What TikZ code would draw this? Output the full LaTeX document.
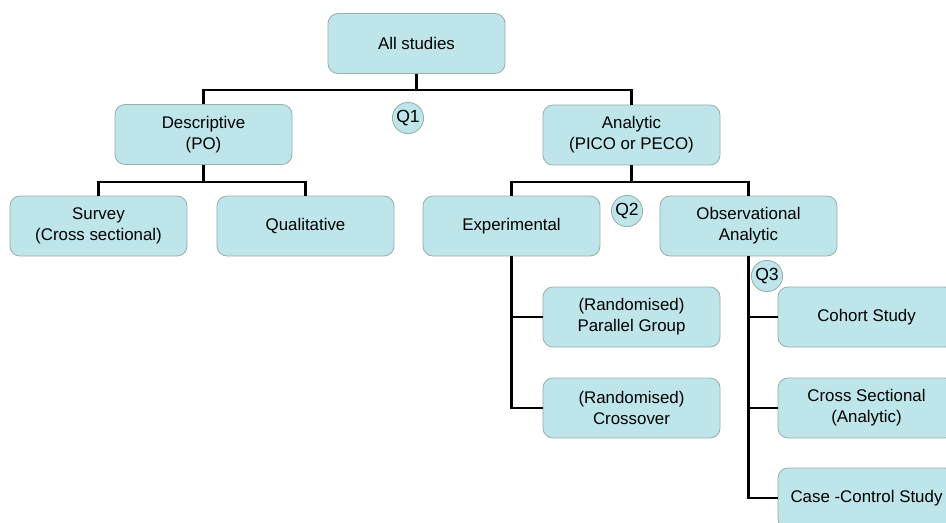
\documentclass[tikz,border=0pt]{standalone}
\usepackage{fontspec}
\setmainfont{Liberation Sans}
\usepackage{tikz}
\usetikzlibrary{positioning, calc}
\definecolor{boxfill}{HTML}{BEE6EA}
\definecolor{boxline}{HTML}{9AAEB0}
\tikzset{
  studybox/.style={
    rectangle, draw=boxline, fill=boxfill, rounded corners=0.25cm,
    minimum width=4.425cm,
    minimum height=1.5cm,
    font=\fontsize{12}{15}\selectfont,
    align=center,
    inner sep=0.1cm,
    line width=0.6pt
  },
  question/.style={
    circle, draw=boxline, fill=boxfill, inner sep=0pt,
    minimum size=0.78cm,
    font=\fontsize{12.5}{14}\selectfont,
    line width=0.6pt
  },
  % Stile dei collegamenti ad albero
  branch/.style={line width=1.9pt, black},
  every node/.style={anchor=center}
}

\begin{document}
\begin{tikzpicture}[x=0.025cm, y=-0.025cm]
\useasboundingbox (0,0) rectangle (946,522);

% Radice
\node[studybox] (allstudies) at (416.5,43.5) {All studies};

% Primo livello
\node[studybox] (descriptive) at (203.5,134.5) {Descriptive\\(PO)};
\node[studybox] (analytic) at (631.5,135) {Analytic\\(PICO or PECO)};

% Secondo livello - descrittivi
\node[studybox] (survey) at (98.5,226) {Survey\\(Cross sectional)};
\node[studybox] (qualitative) at (305.5,226) {Qualitative};

% Secondo livello - analitici
\node[studybox] (experimental) at (511.5,226) {Experimental};
\node[studybox] (observational) at (748.5,226) {Observational\\Analytic};

% Terzo livello - sperimentali
\node[studybox] (parallel) at (631.5,317) {(Randomised)\\Parallel Group};
\node[studybox] (crossover) at (631.5,408) {(Randomised)\\Crossover};

% Terzo livello - osservazionali
\node[studybox] (cohort) at (866.5,317) {Cohort Study};
\node[studybox] (crosssect) at (866.5,408) {Cross Sectional\\(Analytic)};
\node[studybox] (casecontrol) at (866.5,498) {Case -Control Study};

% Collegamenti
\coordinate (j1) at (416.5,90);
\coordinate (j2) at (203.5,182);
\coordinate (j3) at (631.5,182);
\draw[branch] (allstudies.south) -- (j1);
\draw[branch] (descriptive.north) |- (j1) -| (analytic.north);
\draw[branch] (descriptive.south) -- (j2);
\draw[branch] (survey.north) |- (j2) -| (qualitative.north);
\draw[branch] (analytic.south) -- (j3);
\draw[branch] (experimental.north) |- (j3) -| (observational.north);

\draw[branch] (experimental.south) |- (crossover.west);
\draw[branch] (experimental.south |- parallel.west) -- (parallel.west);

\draw[branch] (observational.south) |- (casecontrol.west);
\draw[branch] (observational.south |- cohort.west) -- (cohort.west);
\draw[branch] (observational.south |- crosssect.west) -- (crosssect.west);

% Domande
\node[question] (q1) at (408,118) {Q1};
\node[question] (q2) at (627,211) {Q2};
\node[question] (q3) at (767,276) {Q3};

\end{tikzpicture}
\end{document}
